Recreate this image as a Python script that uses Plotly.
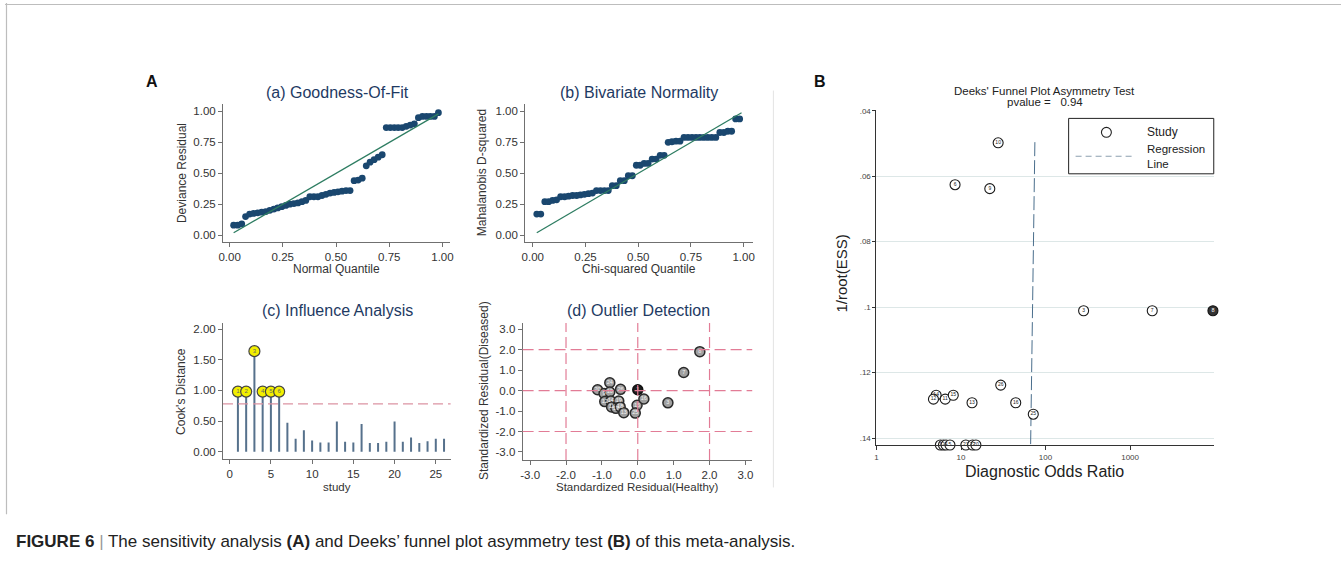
import plotly.graph_objects as go

W, H = 1344, 579
def PX(x): return x / W
def PY(y): return 1 - y / H

FONT = "Liberation Sans, Arial, sans-serif"
TITLE_C = "#1e3a63"
TICK_C = "#333333"
AX_C = "#707070"

# ---------------- data ----------------
# (a) Goodness-of-fit
gof_quantile = [0.019, 0.038, 0.057, 0.075, 0.094, 0.113, 0.132, 0.151, 0.170, 0.189,
                0.208, 0.226, 0.245, 0.264, 0.283, 0.302, 0.321, 0.340, 0.358, 0.377,
                0.396, 0.415, 0.434, 0.453, 0.472, 0.491, 0.509, 0.528, 0.547, 0.566,
                0.585, 0.604, 0.623, 0.642, 0.660, 0.679, 0.698, 0.717, 0.736, 0.755,
                0.774, 0.792, 0.811, 0.830, 0.849, 0.868, 0.887, 0.906, 0.925, 0.943,
                0.962, 0.981]
gof_residual = [0.08, 0.08, 0.09, 0.15, 0.17, 0.175, 0.18, 0.185, 0.19, 0.20,
                0.21, 0.22, 0.23, 0.24, 0.25, 0.255, 0.26, 0.27, 0.28, 0.31,
                0.31, 0.31, 0.32, 0.33, 0.34, 0.345, 0.35, 0.355, 0.36, 0.36,
                0.44, 0.445, 0.46, 0.56, 0.59, 0.61, 0.63, 0.65, 0.87, 0.87,
                0.87, 0.87, 0.87, 0.88, 0.89, 0.90, 0.95, 0.96, 0.96, 0.96,
                0.96, 0.99]
# (b) Bivariate normality
bn_quantile = [0.019, 0.038, 0.057, 0.075, 0.094, 0.113, 0.132, 0.151, 0.170, 0.189,
               0.208, 0.226, 0.245, 0.264, 0.283, 0.302, 0.321, 0.340, 0.358, 0.377,
               0.396, 0.415, 0.434, 0.453, 0.472, 0.491, 0.509, 0.528, 0.547, 0.566,
               0.585, 0.604, 0.623, 0.642, 0.660, 0.679, 0.698, 0.717, 0.736, 0.755,
               0.774, 0.792, 0.811, 0.830, 0.849, 0.868, 0.887, 0.906, 0.925, 0.943,
               0.962, 0.981]
bn_dsquared = [0.17, 0.17, 0.27, 0.27, 0.28, 0.285, 0.31, 0.31, 0.315, 0.32,
               0.32, 0.325, 0.33, 0.335, 0.34, 0.36, 0.36, 0.36, 0.36, 0.40,
               0.40, 0.44, 0.44, 0.48, 0.48, 0.565, 0.565, 0.58, 0.58, 0.615,
               0.615, 0.645, 0.645, 0.75, 0.755, 0.76, 0.76, 0.79, 0.79, 0.79,
               0.79, 0.79, 0.79, 0.79, 0.79, 0.79, 0.83, 0.83, 0.84, 0.84,
               0.94, 0.94]
# (c) Influence analysis
study = [1, 2, 3, 4, 5, 6, 7, 8, 9, 10, 11, 12, 13,
         14, 15, 16, 17, 18, 19, 20, 21, 22, 23, 24, 25, 26]
cooks_d = [0.98, 0.98, 1.64, 0.98, 0.98, 0.98, 0.47, 0.21, 0.35, 0.18, 0.15, 0.15, 0.49,
           0.16, 0.15, 0.45, 0.14, 0.14, 0.16, 0.49, 0.16, 0.23, 0.14, 0.17, 0.21, 0.21]
cooks_cut = 0.78
# (d) Outlier detection
od_healthy = [-0.78, -1.12, -0.94, -0.78, -0.48, -0.92, -0.75, -0.53, -0.73, -0.61,
              -0.49, -0.39, -0.02, 0.17, -0.07, 0.84, 1.28, 1.73]
od_diseased = [0.38, 0.04, -0.14, -0.07, 0.06, -0.54, -0.51, -0.51, -0.80, -0.87,
               -0.80, -1.08, -0.72, -0.41, -1.10, -0.60, 0.88, 1.90]
od_label = ["24", "20", "9", "10", "26", "12", "14", "19", "11", "17",
            "18", "13", "15", "16", "25", "3", "7", "8"]
od_overlap_h = [0.0]
od_overlap_d = [0.04]
od_overlap_label = ["1"]
od_cut = [-2.0, 0.0, 2.0]
# (B) Deeks' funnel plot
deeks_dor = [27.5, 8.5, 21.9, 282, 1829, 29.5, 5.08, 4.72, 6.5, 8.1, 13.5, 44.4, 71.6,
             5.7, 6.2, 6.65, 7.4, 11.4, 13.7, 15.0]
deeks_ess = [0.0498, 0.0626, 0.0638, 0.1011, 0.1011, 0.1238, 0.1269, 0.1281, 0.1281, 0.1269,
             0.1292, 0.1292, 0.1327, 0.1421, 0.1421, 0.1421, 0.1421, 0.1421, 0.1421, 0.1421]
deeks_label = ["10", "6", "9", "3", "7", "26", "14", "12", "11", "15", "13", "16", "25",
               "1", "2", "4", "5", "21", "22", "20"]
deeks_dark_dor = [9550]
deeks_dark_ess = [0.1011]
deeks_dark_label = ["8"]
reg_dor = [74.8, 66.6]
reg_ess = [0.0496, 0.1421]

fig = go.Figure()

# (a)
fig.add_trace(go.Scatter(x=gof_quantile, y=gof_residual, mode="markers", xaxis="x", yaxis="y",
                         marker=dict(color="#1a476f", size=6.8), showlegend=False))
fig.add_trace(go.Scatter(x=[min(gof_quantile), max(gof_quantile)], y=[min(gof_quantile), max(gof_quantile)],
                         mode="lines", xaxis="x", yaxis="y", line=dict(color="#2e7d62", width=1.3),
                         showlegend=False))
# (b)
fig.add_trace(go.Scatter(x=bn_quantile, y=bn_dsquared, mode="markers", xaxis="x2", yaxis="y2",
                         marker=dict(color="#1a476f", size=6.8), showlegend=False))
fig.add_trace(go.Scatter(x=[min(bn_quantile), 0.99], y=[min(bn_quantile), 0.99],
                         mode="lines", xaxis="x2", yaxis="y2", line=dict(color="#2e7d62", width=1.3),
                         showlegend=False))
# (c)
sx, sy = [], []
for s, v in zip(study, cooks_d):
    sx += [s, s, None]
    sy += [0, v, None]
fig.add_trace(go.Scatter(x=sx, y=sy, mode="lines", xaxis="x3", yaxis="y3",
                         line=dict(color="#56718c", width=2), showlegend=False))
fx = [s for s, v in zip(study, cooks_d) if v > cooks_cut]
fy = [v for v in cooks_d if v > cooks_cut]
fig.add_trace(go.Scatter(x=fx, y=fy, mode="markers+text", xaxis="x3", yaxis="y3",
                         text=[str(s) for s in fx], textposition="middle center",
                         textfont=dict(size=6, color="#666", family=FONT),
                         marker=dict(color="#f2ef00", size=11, line=dict(color="#444", width=1.2)),
                         cliponaxis=False, showlegend=False))
# (d)
fig.add_trace(go.Scatter(x=od_healthy, y=od_diseased, mode="markers+text", xaxis="x4", yaxis="y4",
                         text=od_label, textposition="middle center",
                         textfont=dict(size=5.5, color="#f4f4f4", family=FONT),
                         marker=dict(color="#a0a0a0", size=10, line=dict(color="#2a2a2a", width=1.5)),
                         cliponaxis=False, showlegend=False))
fig.add_trace(go.Scatter(x=od_overlap_h, y=od_overlap_d, mode="markers+text", xaxis="x4", yaxis="y4",
                         text=od_overlap_label, textposition="middle center",
                         textfont=dict(size=5.5, color="#ffffff", family=FONT),
                         marker=dict(color="#1e1e1e", size=10, line=dict(color="#111", width=1.5)),
                         cliponaxis=False, showlegend=False))
# (B)
fig.add_trace(go.Scatter(x=reg_dor, y=reg_ess, mode="lines", xaxis="x5", yaxis="y5",
                         line=dict(color="#4a6e8c", width=1, dash="14px,4px"), showlegend=False))
fig.add_trace(go.Scatter(x=deeks_dor, y=deeks_ess, mode="markers+text", xaxis="x5", yaxis="y5",
                         text=deeks_label, textposition="middle center",
                         textfont=dict(size=5, color="#222", family=FONT),
                         marker=dict(color="white", size=10, line=dict(color="#1a1a1a", width=1.1)),
                         cliponaxis=False, showlegend=False))
fig.add_trace(go.Scatter(x=deeks_dark_dor, y=deeks_dark_ess, mode="markers+text", xaxis="x5", yaxis="y5",
                         text=deeks_dark_label, textposition="middle center",
                         textfont=dict(size=5.5, color="#fff", family=FONT),
                         marker=dict(color="#333", size=10, line=dict(color="#111", width=1.1)),
                         cliponaxis=False, showlegend=False))


def ax(domain, rng, tv, tt, anchor, size=11.5):
    return dict(domain=domain, range=rng, tickvals=tv, ticktext=tt, anchor=anchor,
                showline=True, linecolor=AX_C, linewidth=1, ticks="outside", ticklen=4,
                tickcolor=AX_C, tickfont=dict(size=size, color=TICK_C, family=FONT),
                showgrid=False, zeroline=False, fixedrange=True)

q_vals = [0, 0.25, 0.5, 0.75, 1.0]
q_text = ["0.00", "0.25", "0.50", "0.75", "1.00"]
xa_dom = [PX(219.3), PX(448)]
xb_dom = [PX(523.3), PX(752)]
top_dom = [PY(240), PY(101.7)]
bot_dom = [PY(459.3), PY(321.7)]

layout = dict(
    width=W, height=H, margin=dict(l=0, r=0, t=0, b=0),
    paper_bgcolor="white", plot_bgcolor="white", showlegend=False,
    font=dict(family=FONT),
    xaxis=ax(xa_dom, [-0.031, 1.037], q_vals, q_text, "y"),
    yaxis=ax(top_dom, [-0.054, 1.059], q_vals, q_text, "x"),
    xaxis2=ax(xb_dom, [-0.036, 1.042], q_vals, q_text, "y2"),
    yaxis2=ax(top_dom, [-0.054, 1.059], q_vals, q_text, "x2"),
    xaxis3=ax([PX(219.3), PX(448.3)], [-0.81, 26.8], [0, 5, 10, 15, 20, 25],
              ["0", "5", "10", "15", "20", "25"], "y3"),
    yaxis3=ax([PY(458.3), PY(321.7)], [-0.119, 2.099], [0, 0.5, 1.0, 1.5, 2.0],
              ["0.00", "0.50", "1.00", "1.50", "2.00"], "x3"),
    xaxis4=ax([PX(520.7), PX(751.7)], [-3.21, 3.19], [-3, -2, -1, 0, 1, 2, 3],
              ["-3.0", "-2.0", "-1.0", "0.0", "1.0", "2.0", "3.0"], "y4"),
    yaxis4=ax(bot_dom, [-3.39, 3.30], [-3, -2, -1, 0, 1, 2, 3],
              ["-3.0", "-2.0", "-1.0", "0.0", "1.0", "2.0", "3.0"], "x4"),
    xaxis5=dict(domain=[PX(876.7), PX(1216)], type="log", range=[0, 3.99],
                tickvals=[1, 10, 100, 1000], ticktext=["1", "10", "100", "1000"], anchor="y5",
                showline=True, linecolor="#333", linewidth=1.3, ticks="outside", ticklen=4,
                tickcolor="#333", tickfont=dict(size=8, color="#444", family=FONT),
                showgrid=False, zeroline=False, fixedrange=True),
    yaxis5=dict(domain=[PY(444.3), PY(107.3)], range=[0.1421, 0.0397],
                tickvals=[0.04, 0.06, 0.08, 0.10, 0.12, 0.14],
                ticktext=[".04", ".06", ".08", ".1", ".12", ".14"], anchor="x5",
                showline=True, linecolor="#333", linewidth=1.2, ticks="outside", ticklen=3,
                tickcolor="#333", tickfont=dict(size=8, color="#444", family=FONT),
                showgrid=True, gridcolor="#dde7e7", gridwidth=1, zeroline=False, fixedrange=True),
)

ann = []
def A(x, y, text, size=12, color=TICK_C, angle=0, xanchor="center", bold=False, align="center"):
    ann.append(dict(x=PX(x), y=PY(y), xref="paper", yref="paper", text=(f"<b>{text}</b>" if bold else text),
                    showarrow=False, xanchor=xanchor, yanchor="middle", textangle=angle, align=align,
                    font=dict(size=size, color=color, family=FONT)))

A(148, 79, "A", size=16, color="#111", bold=True)
A(820, 79, "B", size=16, color="#111", bold=True)
# panel titles
A(334, 90, "(a) Goodness-Of-Fit", size=16, color=TITLE_C)
A(638, 90, "(b) Bivariate Normality", size=16, color=TITLE_C)
A(334, 309, "(c) Influence Analysis", size=16, color=TITLE_C)
A(637, 309, "(d) Outlier Detection", size=16, color=TITLE_C)
# axis titles
A(333, 267, "Normal Quantile", size=12)
A(638, 267, "Chi-squared Quantile", size=12)
A(334, 486.5, "study", size=11.5)
A(636, 486.5, "Standardized Residual(Healthy)", size=11.5)
A(178, 171, "Deviance Residual", size=12, angle=-90)
A(480, 171, "Mahalanobis D-squared", size=12, angle=-90)
A(177, 390, "Cook's Distance", size=12, angle=-90)
A(482, 390, "Standardized Residual(Diseased)", size=12, angle=-90)
# panel B
A(1046, 88, "Deeks' Funnel Plot Asymmetry Test", size=11.5, color="#222")
A(1046, 99.5, "pvalue =   0.94", size=11.5, color="#222")
A(842, 272, "1/root(ESS)", size=15, color="#222", angle=-90)
A(1046, 471, "Diagnostic Odds Ratio", size=16, color="#222")
A(1146.7, 130, "Study", size=12, color="#222", xanchor="left")
A(1146.7, 154, "Regression<br>Line", size=11.5, color="#222", xanchor="left", align="left")
# caption
ann.append(dict(x=PX(9), y=PY(541), xref="paper", yref="paper", showarrow=False,
                xanchor="left", yanchor="middle",
                text="<b>FIGURE 6</b> <span style='color:#999'>|</span> The sensitivity analysis <b>(A)</b> "
                     "and Deeks\u2019 funnel plot asymmetry test <b>(B)</b> of this meta-analysis.",
                font=dict(size=17, color="#222", family=FONT)))
layout["annotations"] = ann

shapes = []
# (c) cut line
shapes.append(dict(type="line", xref="x3 domain", yref="y3", x0=0, x1=1, y0=cooks_cut, y1=cooks_cut,
                   line=dict(color="#dc94a3", width=1.2, dash="10px,5px")))
# (d) reference lines
for c in od_cut:
    shapes.append(dict(type="line", xref="x4 domain", yref="y4", x0=0, x1=1, y0=c, y1=c,
                       line=dict(color="#e27c96", width=1.2, dash="11px,5px")))
    shapes.append(dict(type="line", xref="x4", yref="y4 domain", x0=c, x1=c, y0=0, y1=1,
                       line=dict(color="#e27c96", width=1.2, dash="11px,5px")))
# legend box B
shapes.append(dict(type="rect", xref="paper", yref="paper", x0=PX(1070), x1=PX(1216), y0=PY(171.7), y1=PY(116),
                   line=dict(color="#222", width=1), fillcolor="white", layer="above"))
shapes.append(dict(type="circle", xref="paper", yref="paper", x0=PX(1103), x1=PX(1113),
                   y0=PY(135), y1=PY(125), line=dict(color="#222", width=1.1)))
shapes.append(dict(type="line", xref="paper", yref="paper", x0=PX(1077), x1=PX(1137), y0=PY(154), y1=PY(154),
                   line=dict(color="#8da0b0", width=1.1, dash="6px,4px")))
# separator & frame
shapes.append(dict(type="line", xref="paper", yref="paper", x0=PX(773), x1=PX(773), y0=PY(88), y1=PY(487),
                   line=dict(color="#e4e4e4", width=1)))
shapes.append(dict(type="line", xref="paper", yref="paper", x0=0, x1=1, y0=PY(1.5), y1=PY(1.5),
                   line=dict(color="#bdbdbd", width=1.2)))
shapes.append(dict(type="line", xref="paper", yref="paper", x0=PX(1.5), x1=PX(1.5), y0=PY(0), y1=PY(514),
                   line=dict(color="#bdbdbd", width=1.2)))
layout["shapes"] = shapes

fig.update_layout(**layout)
fig.write_html("out.html")
